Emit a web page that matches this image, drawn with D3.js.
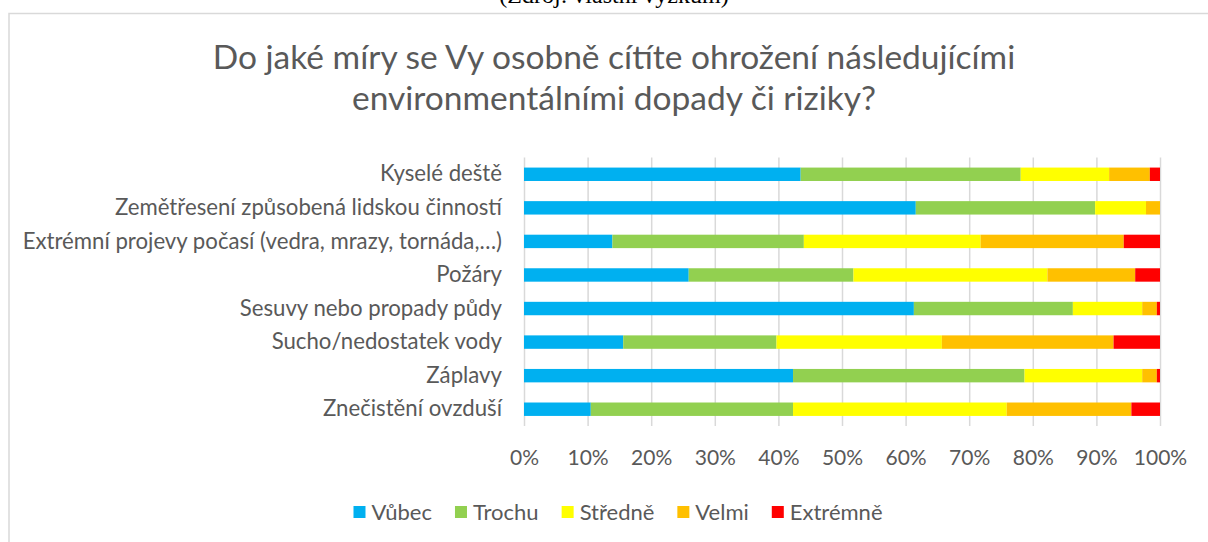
<!DOCTYPE html>
<html>
<head>
<meta charset="utf-8">
<script src="https://cdn.jsdelivr.net/npm/d3@7"></script>
<style>
html,body{margin:0;padding:0;background:#fff;}
svg{display:block;}
</style>
</head>
<body>
<svg id="chart" width="1208" height="542"></svg>
<script>
const categories = [
  "Kyselé deště",
  "Zemětřesení způsobená lidskou činností",
  "Extrémní projevy počasí (vedra, mrazy, tornáda,…)",
  "Požáry",
  "Sesuvy nebo propady půdy",
  "Sucho/nedostatek vody",
  "Záplavy",
  "Znečistění ovzduší"
];
const seriesNames = ["Vůbec", "Trochu", "Středně", "Velmi", "Extrémně"];
const vubec    = [43.5, 61.6, 13.9, 25.9, 61.3, 15.6, 42.3, 10.5];
const trochu   = [34.6, 28.2, 30.1, 25.9, 25.0, 24.1, 36.4, 31.8];
const stredne  = [13.9,  8.0, 27.8, 30.5, 10.9, 26.0, 18.5, 33.6];
const velmi    = [ 6.4,  2.2, 22.5, 13.8,  2.3, 27.0,  2.3, 19.6];
const extremne = [ 1.6,  0.0,  5.7,  3.9,  0.5,  7.3,  0.5,  4.5];
const tickValues = [0, 10, 20, 30, 40, 50, 60, 70, 80, 90, 100];
const colors = ["#00B0F0", "#92D050", "#FFFF00", "#FFC000", "#FF0000"];
const titleLines = ["Do jaké míry se Vy osobně cítíte ohrožení následujícími", "environmentálními dopady či riziky?"];
const sourceText = "(Zdroj: vlastní výzkum)";

const seriesValues = [vubec, trochu, stredne, velmi, extremne];
const rows = categories.map((c, i) => {
  const r = {cat: c};
  seriesNames.forEach((s, j) => r[s] = seriesValues[j][i]);
  return r;
});
const stack = d3.stack().keys(seriesNames)(rows);

const svg = d3.select("#chart");
const FONT = "Lato, 'Open Sans', sans-serif";
const TXT = "#595959";

// partially visible caption above chart
svg.append("text").attr("x", 614).attr("y", 3).attr("text-anchor", "middle")
  .attr("font-family", "'Liberation Serif', serif").attr("font-size", 24).attr("fill", "#000")
  .text(sourceText);

// chart frame
svg.append("rect").attr("x", 9).attr("y", 13.5).attr("width", 1210).attr("height", 560)
  .attr("fill", "#fff").attr("stroke", "#d9d9d9").attr("stroke-width", 1.5);

// title
svg.append("g").selectAll("text").data(titleLines).join("text")
  .attr("x", 614).attr("y", (d, i) => 69 + i * 41)
  .attr("text-anchor", "middle").attr("font-family", FONT).attr("font-size", 33.5)
  .attr("fill", TXT).text(d => d);

const x = d3.scaleLinear().domain([0, 100]).range([524, 1160]);
const y = d3.scaleBand().domain(categories).range([157.5, 426]).paddingInner(0.6).paddingOuter(0.3);

// gridlines
const grid = svg.append("g").attr("transform", "translate(0,426)")
  .call(d3.axisBottom(x).tickValues(tickValues).tickSize(-(426 - 157.5)).tickFormat(""));
grid.select(".domain").remove();
grid.selectAll("line").attr("stroke", "#d9d9d9").attr("stroke-width", 1.5);

// bars
svg.append("g").selectAll("g").data(stack).join("g")
  .attr("fill", (d, i) => colors[i])
  .selectAll("rect").data(d => d).join("rect")
  .attr("x", d => x(d[0])).attr("width", d => x(d[1]) - x(d[0]))
  .attr("y", d => y(d.data.cat)).attr("height", y.bandwidth());

// x tick labels
const xa = svg.append("g").attr("transform", "translate(0,447)")
  .call(d3.axisBottom(x).tickValues(tickValues).tickSize(0).tickFormat(d => d + "%"));
xa.select(".domain").remove();
xa.selectAll("text").attr("font-family", FONT).attr("font-size", 21).attr("fill", TXT).attr("dy", "0.71em");

// category labels
const ya = svg.append("g").attr("transform", "translate(524,0)")
  .call(d3.axisLeft(y).tickSize(0).tickPadding(22));
ya.select(".domain").remove();
ya.selectAll("text").attr("font-family", FONT).attr("font-size", 22.2).attr("fill", TXT);

// legend
const legend = svg.append("g").attr("font-family", FONT).attr("font-size", 22);
const items = legend.selectAll("g").data(seriesNames).join("g");
items.append("rect").attr("width", 12).attr("height", 12).attr("y", -6).attr("fill", (d, i) => colors[i]);
items.append("text").attr("x", 18).attr("dy", "0.35em").attr("fill", TXT).text(d => d);
let lx = 0;
items.each(function() {
  d3.select(this).attr("transform", `translate(${lx},0)`);
  lx += 18 + this.querySelector("text").getComputedTextLength() + 23;
});
const totalW = lx - 23;
legend.attr("transform", `translate(${618 - totalW / 2},512)`);
</script>
</body>
</html>
